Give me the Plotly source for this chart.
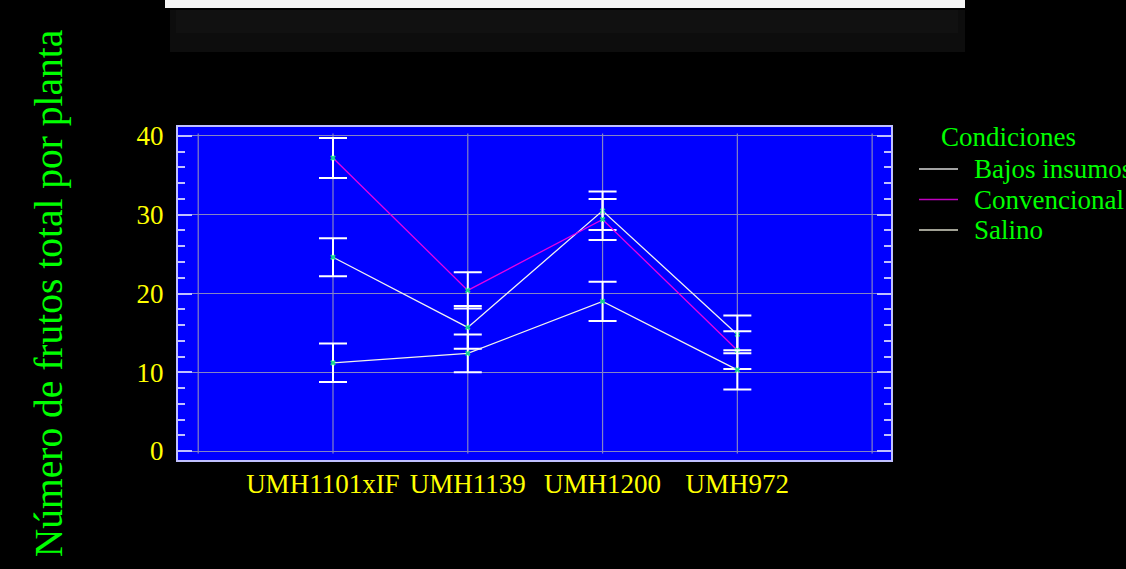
import plotly.graph_objects as go

# Genotypes (x categories) and mean fruit counts per plant with their error margins
genotipos = ["UMH1101xIF", "UMH1139", "UMH1200", "UMH972"]

bajos_insumos = [24.6, 15.7, 30.5, 14.8]
bajos_insumos_err = [2.4, 2.7, 2.45, 2.4]

convencional = [37.2, 20.4, 29.4, 12.8]
convencional_err = [2.55, 2.3, 2.6, 2.4]

salino = [11.2, 12.4, 19.0, 10.3]
salino_err = [2.45, 2.4, 2.5, 2.5]

y_ticks = [0, 10, 20, 30, 40]

# Figure geometry (pixels)
W, H = 1126, 569
PL, PR, PT, PB = 178, 891, 127, 460


def fx(px):
    return (px - PL) / (PR - PL)


def fy(py):
    return (PB - py) / (PB - PT)


SERIF = "Liberation Serif"
YELLOW = "#ffff00"
GREEN = "#00ff00"
LAVENDER = "#c0c0ff"
GRID = "#8484c4"
FS = 27

x_pos = list(range(len(genotipos)))
# the long first label is nudged left (trailing no-break spaces) so it clears its neighbour
tick_text = [genotipos[0] + "\u00a0\u00a0\u00a0"] + genotipos[1:]

# name, values, errors, plot line colour, legend key colour
series = [
    ("Bajos insumos", bajos_insumos, bajos_insumos_err, "#f2f2f2", "#d8d8d8"),
    ("Convencional", convencional, convencional_err, "#e600e6", "#c000c0"),
    ("Salino", salino, salino_err, "#f4f4ea", "#d6d6c6"),
]

fig = go.Figure()
for name, vals, errs, col, _ in series:
    fig.add_trace(go.Scatter(
        x=x_pos, y=vals, name=name, mode="lines+markers",
        line=dict(color=col, width=1.3),
        marker=dict(symbol="x", size=5, color="#19d690",
                    line=dict(width=0)),
        error_y=dict(type="data", array=errs, visible=True,
                     color="#ffffff", thickness=2, width=14),
        showlegend=False,
    ))

# vertical grid lines at the category positions and the outer positions
shapes = []
for gx in range(-1, len(genotipos) + 1):
    shapes.append(dict(type="line", xref="x", yref="y", x0=gx, x1=gx,
                       y0=-0.3, y1=40.3, layer="below",
                       line=dict(color=GRID, width=1.2)))

# faded banner strip across the top of the page
shapes.append(dict(type="rect", xref="paper", yref="paper",
                   x0=fx(170), x1=fx(965), y0=fy(52), y1=fy(10),
                   fillcolor="#0d0d0d", line=dict(width=0), layer="below"))
shapes.append(dict(type="rect", xref="paper", yref="paper",
                   x0=fx(176), x1=fx(958), y0=fy(33), y1=fy(10),
                   fillcolor="#111111", line=dict(width=0), layer="below"))
shapes.append(dict(type="rect", xref="paper", yref="paper",
                   x0=fx(165), x1=fx(965), y0=fy(8), y1=fy(0),
                   fillcolor="#f4f4f4", line=dict(width=0), layer="below"))

# legend: title, line keys and labels
annotations = [dict(
    text="Condiciones", xref="paper", yref="paper",
    x=fx(939), y=fy(137), xanchor="left", yanchor="middle",
    showarrow=False, font=dict(family=SERIF, size=FS, color=GREEN),
)]
key_rows = [169, 199.5, 230]
for (name, _, _, _, key_col), row in zip(series, key_rows):
    shapes.append(dict(type="line", xref="paper", yref="paper",
                       x0=fx(919), x1=fx(958), y0=fy(row), y1=fy(row),
                       line=dict(color=key_col, width=1.5)))
    annotations.append(dict(
        text=name, xref="paper", yref="paper",
        x=fx(972), y=fy(row), xanchor="left", yanchor="middle",
        showarrow=False, font=dict(family=SERIF, size=FS, color=GREEN),
    ))

fig.update_layout(
    width=W, height=H,
    margin=dict(l=PL, r=W - PR, t=PT, b=H - PB, autoexpand=False),
    paper_bgcolor="#000000",
    plot_bgcolor="#0000ff",
    font=dict(family=SERIF, size=FS, color=YELLOW),
    showlegend=False,
    shapes=shapes,
    annotations=annotations,
    xaxis=dict(
        range=[-1.15, 4.14],
        tickmode="array", tickvals=x_pos, ticktext=tick_text,
        tickangle=0,
        showgrid=False, zeroline=False,
        showline=True, linecolor=LAVENDER, linewidth=2, mirror=True,
        ticks="", ticklabelstandoff=-1,
        tickfont=dict(family=SERIF, size=FS, color=YELLOW),
    ),
    yaxis=dict(
        range=[-1.14, 41.14],
        tickmode="array", tickvals=y_ticks,
        showgrid=True, gridcolor=GRID, gridwidth=1.2, zeroline=False,
        showline=True, linecolor=LAVENDER, linewidth=2, mirror="ticks",
        ticks="inside", ticklen=14, tickwidth=1.5, tickcolor=LAVENDER,
        minor=dict(dtick=2, tick0=0, ticks="inside", ticklen=7,
                   tickwidth=1.5, tickcolor=LAVENDER, showgrid=False),
        ticklabelstandoff=7,
        tickfont=dict(family=SERIF, size=FS, color=YELLOW),
        title=dict(text="Número de frutos total por planta",
                   font=dict(family=SERIF, size=39.5, color=GREEN),
                   standoff=62),
    ),
)

fig.write_html("out.html")
